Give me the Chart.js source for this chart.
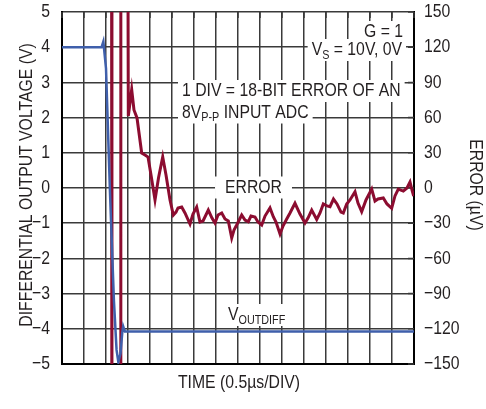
<!DOCTYPE html>
<html>
<head>
<meta charset="utf-8">
<script src="https://cdn.jsdelivr.net/npm/chart.js@4.4.1/dist/chart.umd.min.js"></script>
<style>
  html, body { margin: 0; padding: 0; background: #fff; }
  #wrap { width: 486px; height: 409px; }
</style>
</head>
<body>
<div id="wrap"><canvas id="scope"></canvas></div>
<script>
// output step, volts vs microseconds
const voutTime   = [0, 0.90, 0.94, 1.00, 1.09, 1.18, 1.24, 1.28, 1.33, 1.37, 1.39, 1.43, 8];
const voutValues = [4.0, 4.0, 4.16, 3.4, -0.1, -3.2, -4.6, -4.94, -4.7, -4.1, -3.93, -4.08, -4.08];

// settling error, microvolts vs microseconds (off-scale swings at the edge)
const errTime = [1.125, 1.135, 1.327, 1.337, 1.485, 1.507, 1.584, 1.636, 1.705, 1.811,
  1.886, 1.955, 2.023, 2.114, 2.193, 2.289, 2.364, 2.455, 2.530, 2.591,
  2.636, 2.720, 2.795, 2.909, 2.977, 3.061, 3.136, 3.205, 3.325, 3.409,
  3.477, 3.545, 3.630, 3.705, 3.780, 3.857, 3.909, 3.970, 4.084, 4.159,
  4.234, 4.295, 4.386, 4.455, 4.539, 4.614, 4.727, 4.802, 4.864, 4.955,
  5.023, 5.107, 5.182, 5.295, 5.409, 5.523, 5.591, 5.675, 5.789, 5.864,
  5.939, 6.023, 6.091, 6.170, 6.250, 6.341, 6.393, 6.470, 6.545, 6.659,
  6.727, 6.811, 6.909, 7.039, 7.114, 7.182, 7.302, 7.386, 7.493, 7.568,
  7.643, 7.757, 7.841, 7.909, 7.955, 7.993];
const errValues = [400, -400, -400, 400, 400, 61.4, 83.9, 66.5, 59.7, 29.8,
  28.1, 26.4, 11.1, -10.2, 8.5, 26.4, 11.1, -10.2, -23.0, -20.5,
  -17.0, -16.2, -21.3, -30.7, -22.2, -16.2, -29.0, -28.1, -18.8, -25.6,
  -29.8, -23.0, -21.3, -26.4, -28.1, -42.6, -35.8, -31.5, -23.0, -27.3,
  -28.7, -23.9, -24.7, -29.0, -31.5, -23.9, -17.0, -24.5, -29.0, -39.2,
  -32.4, -26.4, -21.3, -13.0, -22.2, -29.8, -25.6, -18.8, -26.8, -21.3,
  -13.6, -15.3, -15.9, -9.4, -13.6, -20.5, -21.3, -13.6, -10.2, -3.2,
  -12.8, -20.2, -10.2, -0.9, -11.1, -9.4, -8.5, -13.6, -17.3, -6.8,
  -0.9, -2.6, 0, 5.1, -1.7, -6.8];

const voltTicks = [5, 4, 3, 2, 1, 0, -1, -2, -3, -4, -5];
const errTicks = [150, 120, 90, 60, 30, 0, -30, -60, -90, -120, -150];

const FONT = "'Liberation Sans', Arial, sans-serif";
const SX = 0.83;          // horizontal squeeze, condensed lettering
const TEXT = '#231f20';
const GRID = '#3a3a3a';

// text lines inside the plot: parts are [text, isSubscript]
const notes = [
  { parts: [['G = 1', 0]], x: 403, y: 32, align: 'right', padX: 4 },
  { parts: [['V', 0], ['S', 1], [' = 10V, 0V', 0]], x: 402, y: 50, align: 'right', padX: 4 },
  { parts: [['1 DIV = 18-BIT ERROR OF AN', 0]], x: 182, y: 91, align: 'left', padX: 4 },
  { parts: [['8V', 0], ['P-P', 1], [' INPUT ADC', 0]], x: 182, y: 112.5, align: 'left', padX: 4 },
  { parts: [['ERROR', 0]], x: 253.5, y: 187.5, align: 'center', padX: 10 },
  { parts: [['V', 0], ['OUTDIFF', 1]], x: 228, y: 315, align: 'left', padX: 5 }
];

function minus(v) {
  return v < 0 ? '\u2212' + Math.abs(v) : String(v);
}

function drawText(ctx, str, x, y, size, align, angle) {
  ctx.save();
  ctx.translate(x, y);
  if (angle) ctx.rotate(angle);
  ctx.scale(SX, 1);
  ctx.font = size + 'px ' + FONT;
  ctx.fillStyle = TEXT;
  ctx.textAlign = align;
  ctx.textBaseline = 'middle';
  ctx.fillText(str, 0, 0);
  ctx.restore();
}

function textWidth(ctx, str, size) {
  ctx.font = size + 'px ' + FONT;
  return ctx.measureText(str).width * SX;
}

const labelsPlugin = {
  id: 'labels',
  beforeDatasetsDraw(chart) {
    const ctx = chart.ctx;
    const area = chart.chartArea;
    ctx.save();
    notes.forEach(n => {
      const widths = n.parts.map(p => textWidth(ctx, p[0], p[1] ? 13 : 19));
      const total = widths.reduce((a, b) => a + b, 0);
      let x0 = n.x;
      if (n.align === 'right') x0 = n.x - total;
      if (n.align === 'center') x0 = n.x - total / 2;
      ctx.fillStyle = '#fff';
      ctx.fillRect(x0 - n.padX, n.y - 11, total + 2 * n.padX, 22);
      let x = x0;
      n.parts.forEach((p, i) => {
        drawText(ctx, p[0], x, p[1] ? n.y + 5 : n.y, p[1] ? 13 : 19, 'left');
        x += widths[i];
      });
    });

    // short inward ticks on the frame
    ctx.strokeStyle = GRID;
    ctx.lineWidth = 1.5;
    const xs = chart.scales.x;
    const ys = chart.scales.y2;
    ctx.beginPath();
    xs.ticks.forEach(t => {
      const px = xs.getPixelForValue(t.value);
      ctx.moveTo(px, area.top); ctx.lineTo(px, area.top + 6);
    });
    ys.ticks.forEach(t => {
      const py = ys.getPixelForValue(t.value);
      ctx.moveTo(area.right, py); ctx.lineTo(area.right - 6, py);
    });
    ctx.stroke();
    ctx.restore();
  },
  afterDraw(chart) {
    const ctx = chart.ctx;
    const area = chart.chartArea;
    const yl = chart.scales.y;
    const yr = chart.scales.y2;
    voltTicks.forEach(v => drawText(ctx, minus(v), area.left - 12, yl.getPixelForValue(v), 19, 'right'));
    errTicks.forEach(v => drawText(ctx, minus(v), area.right + 10, yr.getPixelForValue(v), 19, 'left'));
    drawText(ctx, 'DIFFERENTIAL OUTPUT VOLTAGE (V)', 27, 185, 19, 'center', -Math.PI / 2);
    drawText(ctx, 'ERROR (\u00b5V)', 475, 185, 19, 'center', Math.PI / 2);
    drawText(ctx, 'TIME (0.5\u00b5s/DIV)', 239, 383, 19, 'center');
  }
};

const ctx = document.getElementById('scope').getContext('2d');
new Chart(ctx, {
  type: 'line',
  data: {
    datasets: [
      {
        label: 'VOUTDIFF',
        data: voutTime.map((t, i) => ({ x: t, y: voutValues[i] })),
        yAxisID: 'y',
        borderColor: '#3f5fab',
        borderWidth: 2.5,
        pointRadius: 0,
        tension: 0,
        order: 0
      },
      {
        label: 'ERROR',
        data: errTime.map((t, i) => ({ x: t, y: errValues[i] })),
        yAxisID: 'y2',
        borderColor: '#8c0c30',
        borderWidth: 3,
        pointRadius: 0,
        tension: 0,
        order: 1
      }
    ]
  },
  options: {
    responsive: true,
    maintainAspectRatio: false,
    animation: false,
    devicePixelRatio: 1,
    layout: { padding: { top: 12, left: 0, right: 0, bottom: 0 } },
    plugins: { legend: { display: false }, tooltip: { enabled: false } },
    scales: {
      x: {
        type: 'linear',
        min: 0,
        max: 8,
        ticks: { stepSize: 0.5, display: false },
        grid: { color: GRID, lineWidth: 1.5, drawTicks: false },
        border: { display: true, color: '#000', width: 2 },
        afterFit(scale) { scale.height = 45; }
      },
      y: {
        position: 'left',
        min: -5,
        max: 5,
        afterBuildTicks(scale) { scale.ticks = voltTicks.map(v => ({ value: v })); },
        ticks: { display: false },
        grid: { color: GRID, lineWidth: 1.5, drawTicks: false },
        border: { display: true, color: '#000', width: 2 },
        afterFit(scale) { scale.width = 62; }
      },
      y2: {
        position: 'right',
        min: -150,
        max: 150,
        afterBuildTicks(scale) { scale.ticks = errTicks.map(v => ({ value: v })); },
        ticks: { display: false },
        grid: { drawOnChartArea: false, drawTicks: false },
        border: { display: true, color: '#000', width: 2 },
        afterFit(scale) { scale.width = 72; }
      }
    }
  },
  plugins: [labelsPlugin]
});
</script>
</body>
</html>
